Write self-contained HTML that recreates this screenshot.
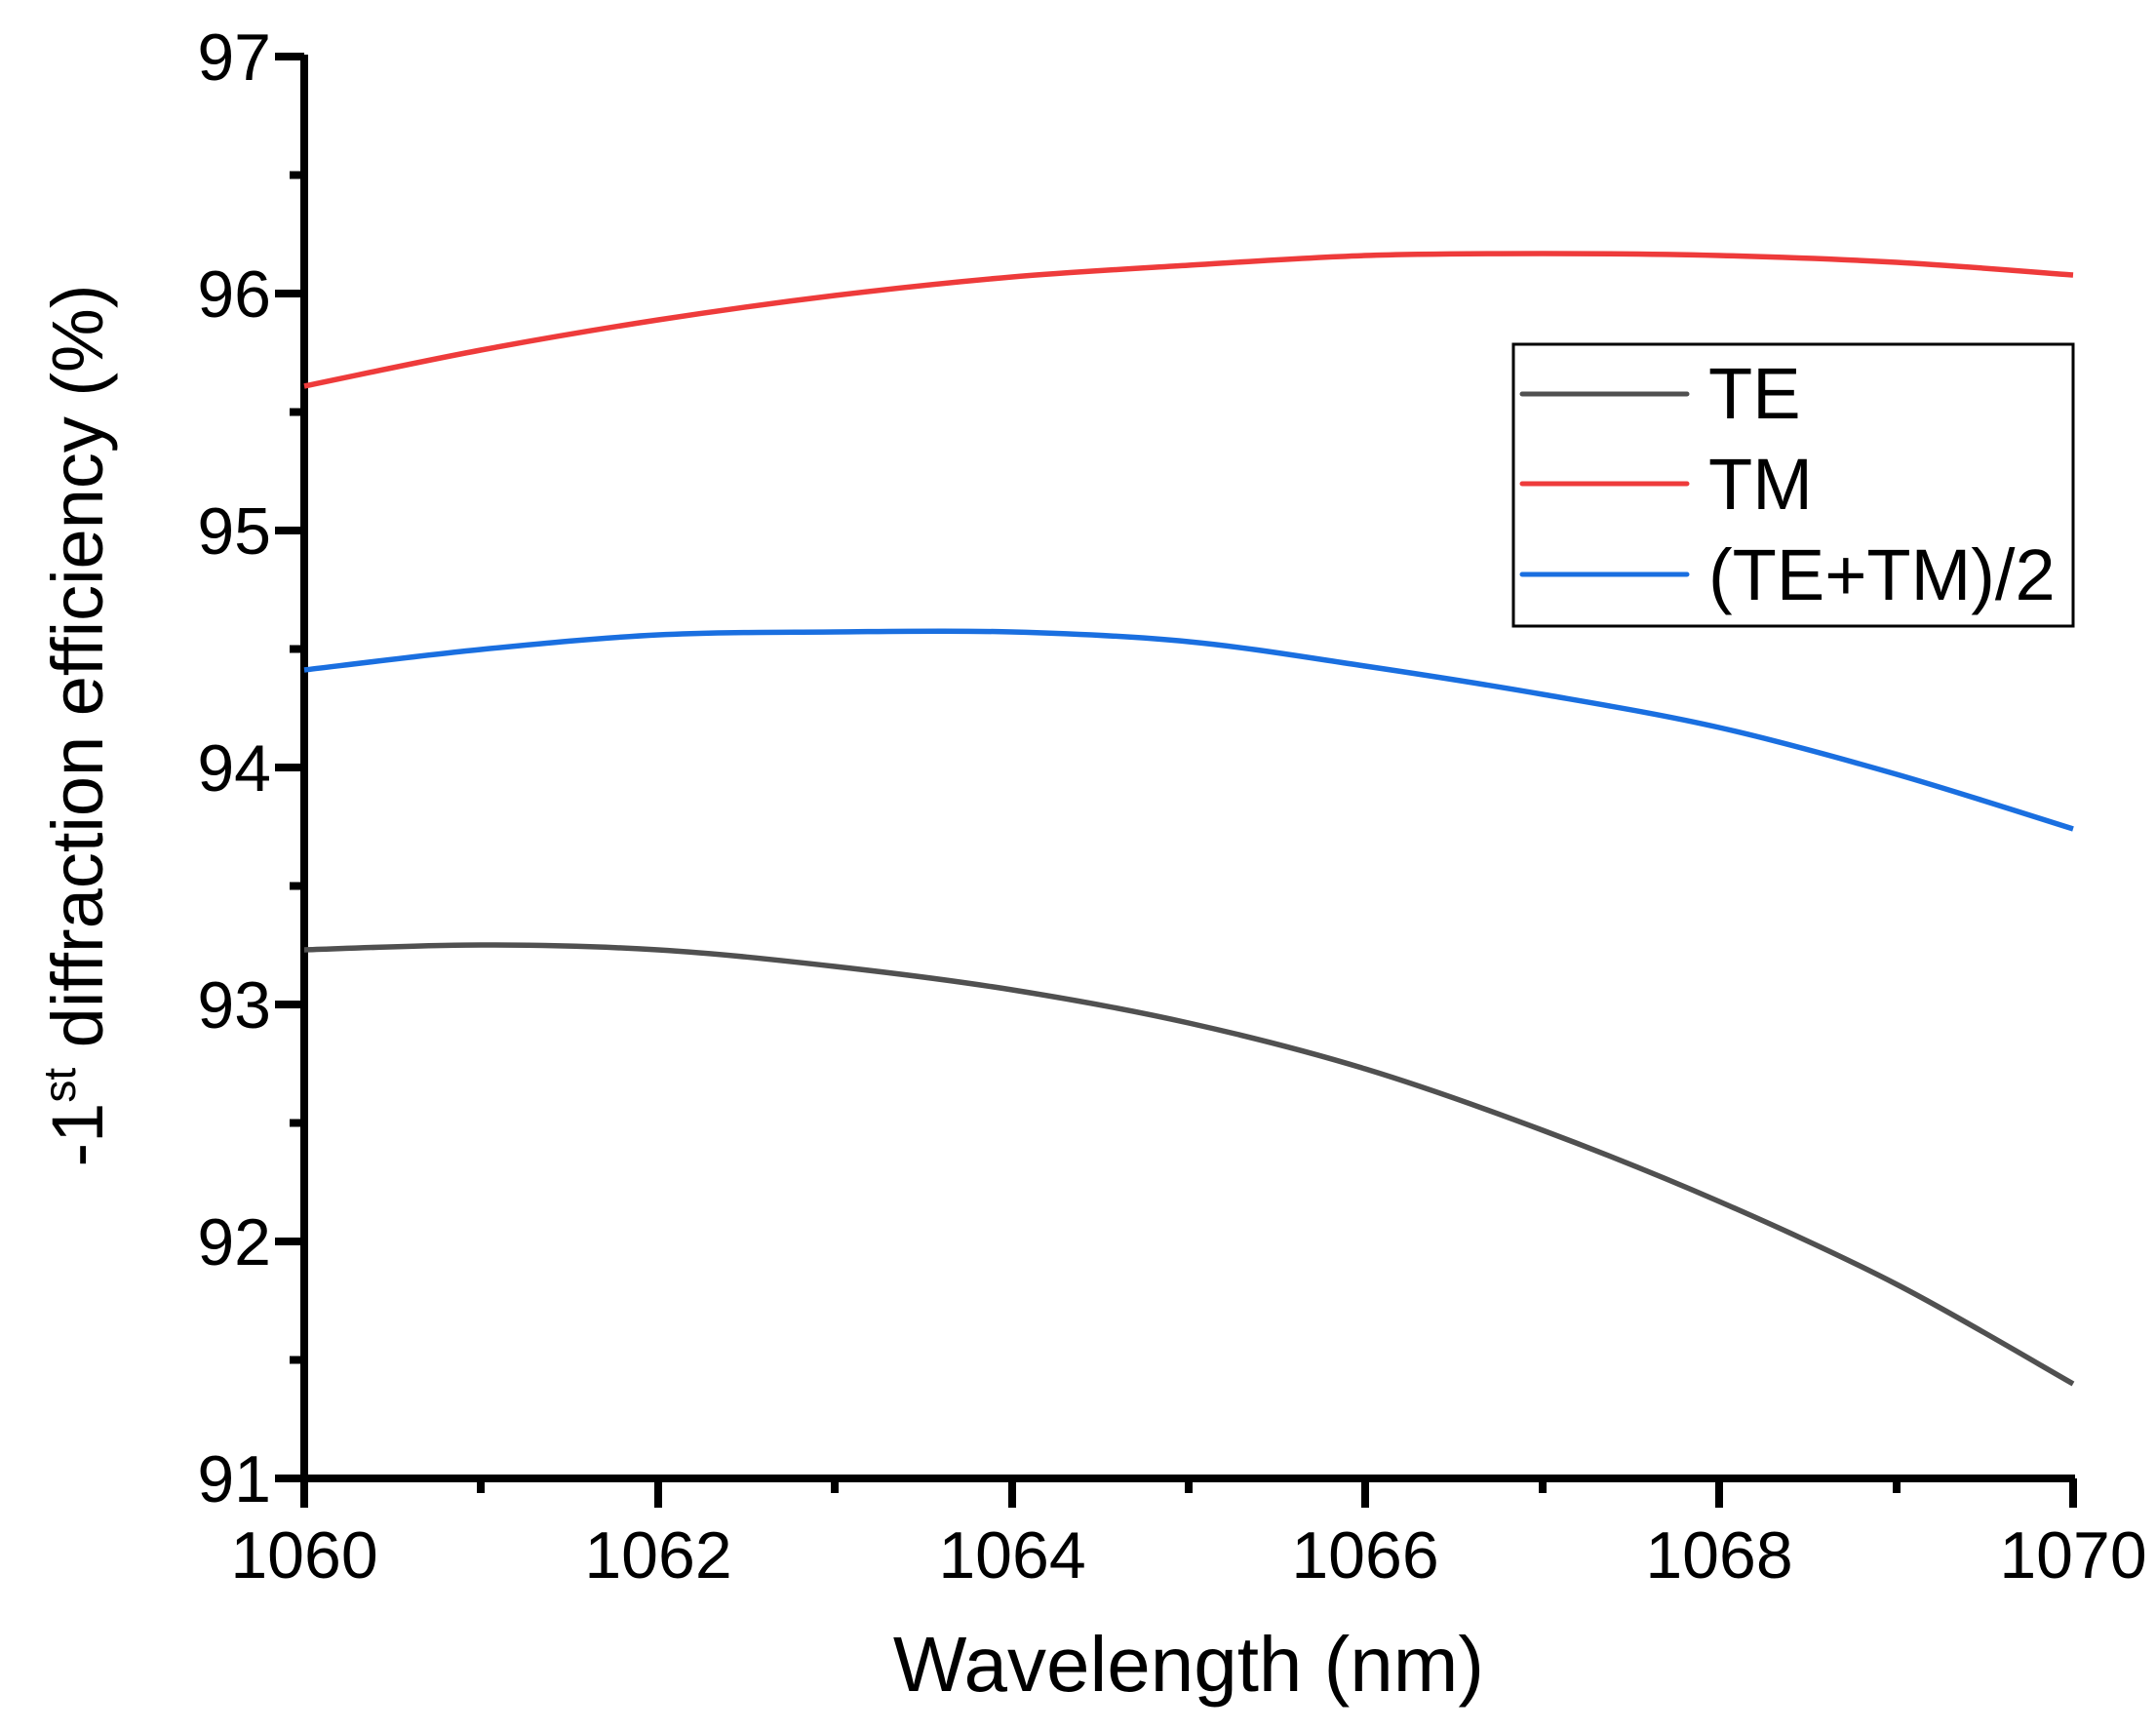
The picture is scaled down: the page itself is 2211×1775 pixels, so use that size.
<!DOCTYPE html>
<html><head><style>body{margin:0;background:#fff}</style></head><body>
<svg width="2211" height="1770" xmlns="http://www.w3.org/2000/svg" font-family="Liberation Sans, Arial, sans-serif">
<rect width="2211" height="1770" fill="#fff"/>
<g stroke="#000" stroke-width="8" fill="none">
<path d="M312,56 V1516 H2128"/>
<path d="M282,58H312M282,301H312M282,544H312M282,787H312M282,1030H312M282,1273H312M282,1516H312"/>
<path d="M297,179.5H312M297,422.5H312M297,665.5H312M297,908.5H312M297,1151.5H312M297,1394.5H312"/>
<path d="M312,1516V1546M675,1516V1546M1038,1516V1546M1400,1516V1546M1763,1516V1546M2126,1516V1546"/>
<path d="M493,1516V1531M856,1516V1531M1219,1516V1531M1582,1516V1531M1945,1516V1531"/>
</g>
<g font-size="68" text-anchor="end">
<text x="278" y="82">97</text><text x="278" y="325">96</text><text x="278" y="568">95</text>
<text x="278" y="811">94</text><text x="278" y="1054">93</text><text x="278" y="1297">92</text><text x="278" y="1540">91</text>
</g>
<g font-size="68" text-anchor="middle">
<text x="312" y="1618">1060</text><text x="675" y="1618">1062</text><text x="1038" y="1618">1064</text>
<text x="1400" y="1618">1066</text><text x="1763" y="1618">1068</text><text x="2126" y="1618">1070</text>
</g>
<text x="1219" y="1734" font-size="80" text-anchor="middle">Wavelength (nm)</text>
<text transform="translate(105,744) rotate(-90)" font-size="74" text-anchor="middle">-1<tspan font-size="46" dy="-28">st</tspan><tspan dy="28"> diffraction efficiency (%)</tspan></text>
<g fill="none" stroke-width="5.5" stroke-linejoin="round">
<polyline id="tm" stroke="#ee3b3b" points="312,396 493,359 675,328 856,303 1038,284 1219,272 1400,262 1582,260 1763,262 1945,269 2126,282"/>
<polyline id="av" stroke="#1a6fe0" points="312,687 493,666 675,651 856,648 1038,648 1219,658 1400,683 1582,712 1763,746 1945,794 2126,850"/>
<polyline id="te" stroke="#505050" points="312,974 493,969 675,974 856,991 1038,1015 1219,1049 1400,1096 1582,1159 1763,1232 1945,1317 2126,1419"/>
</g>
<rect x="1552" y="353" width="574" height="289" fill="#fff" stroke="#000" stroke-width="3"/>
<g stroke-width="5" stroke-linecap="round">
<line x1="1561" y1="404" x2="1730" y2="404" stroke="#505050"/>
<line x1="1561" y1="496" x2="1730" y2="496" stroke="#ee3b3b"/>
<line x1="1561" y1="589" x2="1730" y2="589" stroke="#1a6fe0"/>
</g>
<g font-size="74">
<text x="1752" y="429">TE</text><text x="1752" y="522">TM</text><text x="1752" y="615">(TE+TM)/2</text>
</g>
</svg>
<script>
['tm','av','te'].forEach(function(id){
 var el=document.getElementById(id);
 var p=el.getAttribute('points').trim().split(/\s+/).map(function(s){return s.split(',').map(Number);});
 var d='M'+p[0][0]+','+p[0][1];
 for(var i=0;i<p.length-1;i++){
  var p0=p[i>0?i-1:0],p1=p[i],p2=p[i+1],p3=p[i+2<p.length?i+2:i+1];
  var c1=[p1[0]+(p2[0]-p0[0])/6,p1[1]+(p2[1]-p0[1])/6];
  var c2=[p2[0]-(p3[0]-p1[0])/6,p2[1]-(p3[1]-p1[1])/6];
  d+=' C'+c1[0]+','+c1[1]+' '+c2[0]+','+c2[1]+' '+p2[0]+','+p2[1];
 }
 var path=document.createElementNS('http://www.w3.org/2000/svg','path');
 path.setAttribute('d',d);path.setAttribute('stroke',el.getAttribute('stroke'));
 el.parentNode.replaceChild(path,el);
});
</script>
</body></html>
